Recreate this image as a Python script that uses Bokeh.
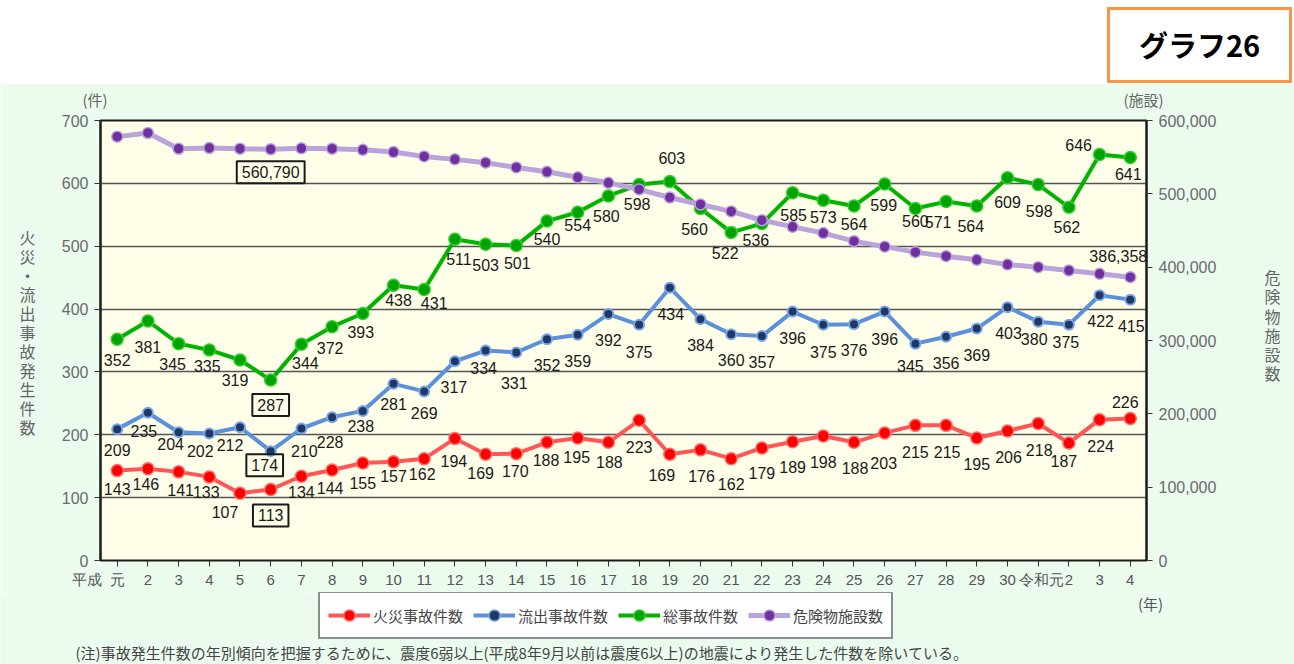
from bokeh.plotting import figure
from bokeh.models import (Range1d, LinearAxis, FixedTicker, NumeralTickFormatter, Label,
                          Legend, LegendItem, ColumnDataSource, Div)
from bokeh.layouts import column
from bokeh.embed import file_html
from bokeh.resources import INLINE
from bokeh.core.properties import value

# ---------------- data ----------------
years = ["元", "2", "3", "4", "5", "6", "7", "8", "9", "10", "11", "12", "13", "14", "15",
         "16", "17", "18", "19", "20", "21", "22", "23", "24", "25", "26", "27", "28", "29",
         "30", "令和元", "2", "3", "4"]
era_label = "平成"
fire = [143, 146, 141, 133, 107, 113, 134, 144, 155, 157, 162, 194, 169, 170, 188, 195, 188,
        223, 169, 176, 162, 179, 189, 198, 188, 203, 215, 215, 195, 206, 218, 187, 224, 226]
spill = [209, 235, 204, 202, 212, 174, 210, 228, 238, 281, 269, 317, 334, 331, 352, 359, 392,
         375, 434, 384, 360, 357, 396, 375, 376, 396, 345, 356, 369, 403, 380, 375, 422, 415]
total = [352, 381, 345, 335, 319, 287, 344, 372, 393, 438, 431, 511, 503, 501, 540, 554, 580,
         598, 603, 560, 522, 536, 585, 573, 564, 599, 560, 571, 564, 609, 598, 562, 646, 641]
facilities = [578000, 583000, 561500, 562500, 561500, 560790, 562000, 561500, 560000, 557000,
              551000, 547000, 542500, 536000, 530000, 522500, 515000, 506000, 495000, 485500,
              476000, 464000, 455000, 446500, 435500, 428000, 420500, 415000, 410000, 403500,
              400000, 395500, 391000, 386358]
series_names = ["火災事故件数", "流出事故件数", "総事故件数", "危険物施設数"]
left_title = "火災・流出事故発生件数"
right_title = "危険物施設数"
left_unit = "(件)"
right_unit = "(施設)"
x_unit = "(年)"
badge = "グラフ26"
note = "(注)事故発生件数の年別傾向を把握するために、震度6弱以上(平成8年9月以前は震度6以上)の地震により発生した件数を除いている。"
boxed_index = 5
labeled_fac = [5, 33]

# label offsets in screen px (dx right, dy down)
fire_dx = [0, -2, 2, -3, -15, 0, 0, -2, 0, 0, -2, -1, -5, -1, -1, -1, 1, 0, -8, 1, 0, 0, 0, 0, 1, -1, 0, 1, 0, 1, 1, -5, 1, -5]
fire_dy = [18, 15, 18, 15, 19, 26, 16, 18, 20, 14, 15, 22, 19, 17, 18, 19, 20, 27, 21, 26, 25, 25, 25, 26, 26, 30, 27, 27, 26, 26, 27, 18, 26, -16]
spill_dx = [0, -4, -8, -9, -10, -6, 3, -2, -2, 0, 0, -1, -2, -2, 0, 0, 0, 0, 1, 0, 0, 0, 0, 0, 0, 0, -5, 0, 0, 1, -4, -3, 1, 1]
spill_dy = [21, 18, 12, 17, 18, 14, 22, 25, 15, 20, 22, 26, 17, 31, 26, 26, 26, 27, 26, 26, 26, 26, 26, 27, 26, 27, 22, 26, 26, 26, 17, 17, 26, 26]
total_dx = [0, 0, -6, -2, -5, 0, 4, -2, -2, 5, 10, 4, 0, 1, 0, 0, -2, -2, 2, -6, -6, -6, 1, 0, 0, -1, 0, -8, -6, 0, 1, -2, -21, -2]
total_dy = [21, 26, 20, 16, 20, 25, 19, 21, 19, 15, 13, 20, 21, 17, 18, 13, 20, 19, -23, 20, 21, 16, 22, 17, 18, 21, 12, 20, 20, 24, 26, 20, -9, 16]
fac_dx = {5: 0, 33: -12}
fac_dy = {5: 23, 33: -21}

NFONT = "Liberation Sans"
JFONT = "Noto Sans CJK JP"
MINT = "#ebfcef"
CREAM = "#fffee8"
INK = "#1a1a1a"
EN = "\u2002"
EM = "\u3000"

W = 1294
HEAD_H = 83
MAIN_H = 509
FOOT_H = 664 - HEAD_H - MAIN_H

# ---------------- header (white band + orange badge) ----------------
head = Div(text=(
    '<div style="width:1294px;height:83px;background:#ffffff;padding-top:7px;box-sizing:border-box;">'
    '<div style="margin-left:1107px;width:185px;height:76px;box-sizing:border-box;'
    'border:3px solid #f79646;background:#ffffff;display:flex;align-items:center;'
    'justify-content:center;font-family:\'Noto Sans CJK JP\';font-weight:bold;'
    'font-size:29px;color:#000000;">' + badge + '</div></div>'),
    width=W, height=HEAD_H, margin=0)

# ---------------- main chart ----------------
p = figure(width=W, height=MAIN_H, x_range=Range1d(-0.544, 33.528), y_range=Range1d(0, 700),
           output_backend="svg", toolbar_location=None,
           min_border_left=100, min_border_right=148, min_border_top=37, min_border_bottom=32)
p.frame_align = False
p.margin = 0
p.border_fill_color = MINT
p.background_fill_color = CREAM
p.outline_line_color = INK
p.outline_line_width = 2
p.xgrid.visible = False
p.ygrid.ticker = FixedTicker(ticks=[100, 200, 300, 400, 500, 600])
p.ygrid.grid_line_color = "#555555"
p.ygrid.grid_line_width = 1.4

p.extra_y_ranges = {"fac": Range1d(0, 600000), "py": Range1d(560, 120)}
p.extra_x_ranges = {"px": Range1d(100, 1146)}

idx = list(range(len(years)))

# x axis: category ticks as minor ticks, labels on major ticks
label_pos = [float(i) for i in idx]
label_pos[30] = 30.12
xa = p.xaxis[0]
xa.ticker = FixedTicker(ticks=label_pos, minor_ticks=idx)
overrides = {pos: lab for pos, lab in zip(label_pos, years)}
overrides[label_pos[0]] = era_label + EN + years[0] + EM + EM + EN
xa.major_label_overrides = overrides
xa.axis_line_color = None
xa.major_tick_line_color = None
xa.major_tick_out = 6
xa.minor_tick_line_color = "#333333"
xa.minor_tick_out = 6
xa.minor_tick_in = 0
xa.major_label_standoff = 4
xa.major_label_text_font = NFONT
xa.major_label_text_font_size = "15px"
xa.major_label_text_color = "#555555"

ya = p.yaxis[0]
ya.ticker = FixedTicker(ticks=[0, 100, 200, 300, 400, 500, 600, 700])
ra = LinearAxis(y_range_name="fac",
                ticker=FixedTicker(ticks=[0, 100000, 200000, 300000, 400000, 500000, 600000]),
                formatter=NumeralTickFormatter(format="0,0"))
p.add_layout(ra, "right")
for ax in (ya, ra):
    ax.axis_line_color = INK
    ax.axis_line_width = 2
    ax.major_tick_line_color = "#333333"
    ax.major_tick_out = 6
    ax.major_tick_in = 0
    ax.minor_tick_line_color = None
    ax.major_label_text_font = NFONT
    ax.major_label_text_font_size = "16px"
    ax.major_label_text_color = "#6a6a6a"
    ax.major_label_standoff = 6


def text_axis(ticks, labels, side, standoff, size="16px", color="#666666", **kw):
    ax = LinearAxis(ticker=FixedTicker(ticks=ticks, minor_ticks=[]),
                    major_label_overrides=dict(zip(ticks, labels)), **kw)
    ax.axis_line_color = None
    ax.major_tick_line_color = None
    ax.minor_tick_line_color = None
    ax.major_tick_out = 0
    ax.major_tick_in = 0
    ax.major_label_standoff = standoff
    ax.major_label_text_font = JFONT
    ax.major_label_text_font_size = size
    ax.major_label_text_color = color
    p.add_layout(ax, side)
    return ax


# stacked vertical axis titles and unit captions
lt_pos = [236 + round(k * 19) for k in range(len(left_title))]
text_axis(lt_pos, list(left_title), "left", 23, y_range_name="py")
rt_pos = [276 + round(k * 19.3) for k in range(len(right_title))]
text_axis(rt_pos, list(right_title), "right", 45, y_range_name="py")
text_axis([102, 1143], [left_unit + EM, right_unit], "above", 11, size="15px",
          x_range_name="px")

# lines & markers
g_line = p.line(idx, total, line_color="#00b400", line_width=4)
g_pt = p.scatter(idx, total, size=12, fill_color="#00a400", line_color="#33cc33", line_width=1.5)
f_line = p.line(idx, facilities, y_range_name="fac", line_color="#b9a3da", line_width=5)
f_pt = p.scatter(idx, facilities, y_range_name="fac", size=11, fill_color="#7030a0",
                 line_color="#b9a3da", line_width=1.5)
s_line = p.line(idx, spill, line_color="#5b91da", line_width=4)
s_pt = p.scatter(idx, spill, size=10, fill_color="#1f3864", line_color="#7aa6e6", line_width=2)
r_line = p.line(idx, fire, line_color="#ff5555", line_width=4)
r_pt = p.scatter(idx, fire, size=12, fill_color="#ff0000", line_color="#ff6a6a", line_width=1.5)


def add_labels(vals, dx, dy):
    texts = [("" if i == boxed_index else str(v)) for i, v in enumerate(vals)]
    src = ColumnDataSource(dict(x=idx, y=vals, t=texts, dx=dx, dy=dy))
    p.text(x="x", y="y", text="t", x_offset="dx", y_offset="dy", source=src,
           text_align="center", text_baseline="middle", text_font=value(NFONT),
           text_font_size="16px", text_color=INK)
    p.add_layout(Label(x=boxed_index, y=vals[boxed_index], x_offset=dx[boxed_index],
                       y_offset=-dy[boxed_index], text=str(vals[boxed_index]),
                       text_font=NFONT, text_font_size="16px", text_color=INK,
                       text_align="center", text_baseline="middle",
                       border_line_color=INK, border_line_width=2,
                       background_fill_color=None, padding=5))


add_labels(fire, fire_dx, fire_dy)
add_labels(spill, spill_dx, spill_dy)
add_labels(total, total_dx, total_dy)

for i in labeled_fac:
    extra = {}
    if i == boxed_index:
        extra = dict(border_line_color=INK, border_line_width=2,
                     background_fill_color=None, padding=5)
    p.add_layout(Label(x=i, y=facilities[i], y_range_name="fac", x_offset=fac_dx[i],
                       y_offset=-fac_dy[i], text=f"{facilities[i]:,}", text_font=NFONT,
                       text_font_size="16px", text_color=INK, text_align="center",
                       text_baseline="middle", **extra))

# ---------------- footer: legend, unit and note ----------------
q = figure(width=W, height=FOOT_H, x_range=Range1d(0, W), y_range=Range1d(664, HEAD_H + MAIN_H),
           output_backend="svg", toolbar_location=None, min_border=0,
           x_axis_location=None, y_axis_location=None)
q.frame_align = False
q.margin = 0
q.grid.visible = False
q.outline_line_color = None
q.background_fill_color = MINT
q.border_fill_color = MINT
# the series are re-drawn here on a far-away range only so the legend has glyphs to show
q.extra_y_ranges = {"off": Range1d(-20000, -10000)}

series = [fire, spill, total, facilities]
styles = [("#ff5555", 4, 12, "#ff0000", "#ff6a6a"), ("#5b91da", 4, 10, "#1f3864", "#7aa6e6"),
          ("#00b400", 4, 12, "#00a400", "#33cc33"), ("#b9a3da", 5, 11, "#7030a0", "#b9a3da")]
items = []
for name, vals, (lc, lw, sz, fc, mc) in zip(series_names, series, styles):
    ln = q.line(idx, vals, y_range_name="off", line_color=lc, line_width=lw)
    sc = q.scatter(idx, vals, y_range_name="off", size=sz, fill_color=fc, line_color=mc,
                   line_width=1.5)
    items.append(LegendItem(label=name, renderers=[ln, sc]))
legend = Legend(items=items, orientation="horizontal", location=(318, 25))
legend.border_line_color = INK
legend.border_line_width = 2
legend.background_fill_color = "white"
legend.background_fill_alpha = 1
legend.label_text_font = JFONT
legend.label_text_font_size = "15px"
legend.label_text_color = "#444444"
legend.glyph_width = 42
legend.glyph_height = 28
legend.label_height = 28
legend.label_standoff = 3
legend.spacing = 10
legend.padding = 8
legend.margin = 0
q.add_layout(legend)

q.text(x=[1150], y=[603], text=[x_unit], text_align="center", text_baseline="middle",
       text_font=value(JFONT), text_font_size="15px", text_color="#555555")
q.text(x=[75], y=[641], text=[note], text_align="left", text_baseline="top",
       text_font=value(JFONT), text_font_size="15px", text_color="#444444")

layout = column(head, p, q, spacing=0)
open("out.html", "w").write(file_html(layout, INLINE))
